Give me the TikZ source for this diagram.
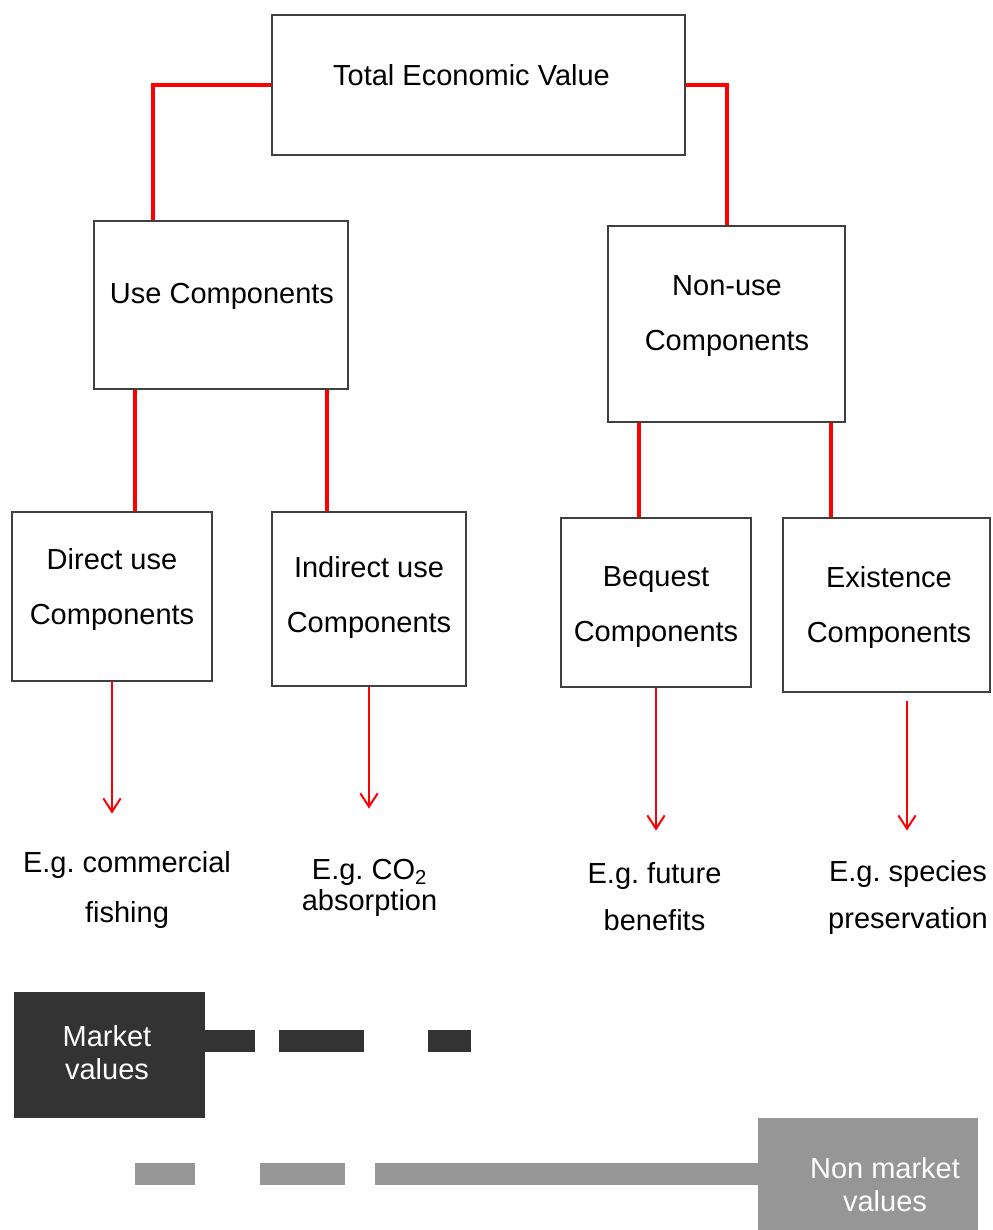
\documentclass[tikz,border=0pt]{standalone}
\usepackage{fontspec}
\setmainfont{Liberation Sans}
\usetikzlibrary{arrows.meta}
\frenchspacing
\tikzset{
  box/.style={draw=black!75, line width=0.8pt, fill=white, inner sep=0pt},
  lbl/.style={font=\fontsize{21.75}{41.25}\selectfont, align=center, inner sep=0pt},
  conn/.style={draw=red, line width=3pt},
  arr/.style={draw=red, line width=1.5pt, -{Straight Barb[length=10pt,width=13pt]}},
  darkbar/.style={draw=black!80, line width=16.5pt},
  graybar/.style={draw=black!41, line width=16.5pt},
}
\begin{document}
\frenchspacing
\begin{tikzpicture}[x=0.75pt,y=-0.75pt]
\useasboundingbox (0,0) rectangle (992,1230);
% boxes
\node[box, minimum width=309.75pt, minimum height=105pt] (tev) at (478.5,85) {};
\node[box, minimum width=190.5pt, minimum height=126pt] (use) at (221,305) {};
\node[box, minimum width=177.75pt, minimum height=147pt] (nonuse) at (726.5,324) {};
\node[box, minimum width=150pt, minimum height=126.75pt] (direct) at (112,596.5) {};
\node[box, minimum width=145.5pt, minimum height=130.5pt] (indirect) at (369,599) {};
\node[box, minimum width=142.5pt, minimum height=126.75pt] (bequest) at (656,602.5) {};
\node[box, minimum width=155.25pt, minimum height=130.5pt] (existence) at (886.5,605) {};
% box texts
\node[lbl] (tevT) at (471.5,75) {Total Economic Value};
\node[lbl] (useT) at (222,296) {Use Components};
\node[lbl] (nonuseT) at (727,316) {Non-use\\Components};
\node[lbl] (directT) at (112,589) {Direct use\\Components};
\node[lbl] (indirectT) at (369,597) {Indirect use\\Components};
\node[lbl] (bequestT) at (656,607) {Bequest\\Components};
\node[lbl] (existenceT) at (889,607) {Existence\\Components};
% red connectors
\draw[conn] (tev.west) -| ([xshift=-51pt]use.north);
\draw[conn] (tev.east) -| (nonuse.north);
\draw[conn] ([xshift=-64.5pt]use.south) -- ([xshift=17.25pt]direct.north);
\draw[conn] ([xshift=79.5pt]use.south) -- ([xshift=-31.5pt]indirect.north);
\draw[conn] ([xshift=-65.625pt]nonuse.south) -- ([xshift=-12.75pt]bequest.north);
\draw[conn] ([xshift=78.375pt]nonuse.south) -- ([xshift=-41.625pt]existence.north);
% arrows
\draw[arr] (direct.south) -- ++(0,132);
\draw[arr] (indirect.south) -- ++(0,122);
\draw[arr] (bequest.south) -- ++(0,143);
\draw[arr] ([xshift=15.375pt,yshift=-6pt]existence.south) -- ++(0,130);
% example labels
\node[lbl, font=\fontsize{21.75}{37.5}\selectfont] (ex1) at (127,890) {E.g. commercial\\fishing};
\node[lbl, font=\fontsize{21.75}{23.25}\selectfont] (ex2) at (369.5,888) {E.g. CO\textsubscript{2}\\absorption};
\node[lbl, font=\fontsize{21.75}{35.25}\selectfont] (ex3) at (654.5,897) {E.g. future\\benefits};
\node[lbl, font=\fontsize{21.75}{35.25}\selectfont] (ex4) at (908,897) {E.g. species\\preservation};
% market / non market
\node[fill=black!80, minimum width=143.25pt, minimum height=94.5pt, inner sep=0pt] (market) at (109.5,1055) {};
\node[fill=black!41, minimum width=165pt, minimum height=84pt, inner sep=0pt] (nonmarket) at (868,1174) {};
\draw[darkbar, dash pattern=on 37.5pt off 18pt on 63.75pt off 48pt on 32.25pt] ([yshift=10.5pt]market.east) -- ++(266,0);
\draw[graybar, dash pattern=on 287.25pt off 22.5pt on 63.75pt off 48.75pt on 45pt] (nonmarket.west) -- ++(-623,0);
\node[lbl, text=white, font=\fontsize{21.75}{24.75}\selectfont] (marketT) at (107,1053) {Market\\values};
\node[lbl, text=white, font=\fontsize{21.75}{24.75}\selectfont] (nonmarketT) at (885,1185) {Non market\\values};
\end{tikzpicture}
\end{document}
